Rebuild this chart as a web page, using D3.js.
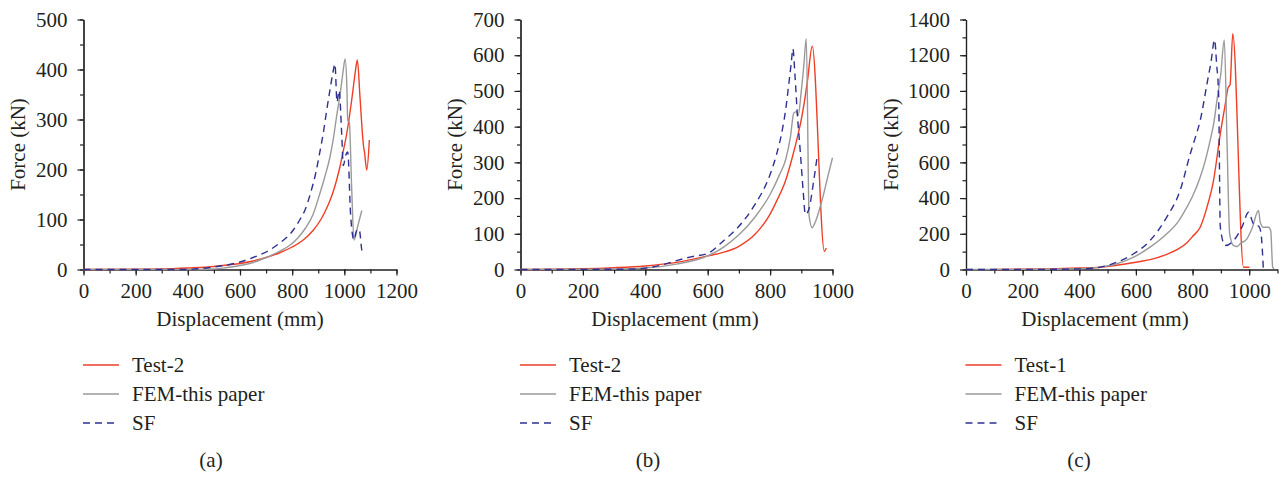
<!DOCTYPE html>
<html>
<head>
<meta charset="utf-8">
<script src="https://cdn.jsdelivr.net/npm/d3@7"></script>
<style>
  body { margin: 0; background: #fff; }
  text { font-family: "Liberation Serif", serif; fill: #231f20; }
</style>
</head>
<body>
<svg width="1283" height="477"></svg>
<script>
// ---- panel (a) ----
const testA = [[0,0],[200,0.5],[300,1],[400,3],[500,6],[550,9],[600,12],[650,17],[700,24],[750,33],[800,45],[840,58],[880,78],[910,100],[930,120],[945,138],[960,160],[972,182],[983,205],[995,235],[1009,271],[1028,338],[1041,391],[1050,419],[1060,345],[1074,245],[1077,236],[1086,199],[1096,259]];
const femA = [[0,0],[400,0],[500,1],[550,4],[600,8],[650,14],[700,24],[750,36],[790,48],[820,62],[850,82],[880,110],[905,150],[925,185],[945,225],[958,262],[970,305],[985,355],[995,395],[1003,421],[1010,360],[1013,298],[1019,295],[1028,165],[1037,59],[1052,88],[1067,118]];
const sfA = [[0,0],[400,0],[450,2],[500,5],[550,9],[600,15],[650,24],[700,35],[750,52],[800,76],[830,100],[850,120],[870,152],[890,192],[905,232],[920,275],[930,310],[942,350],[955,390],[964,411],[972,335],[980,358],[990,270],[996,208],[1005,228],[1013,235],[1024,110],[1037,59],[1045,75],[1051,81],[1058,78],[1068,38],[1086,35]];
const xTicksA = [0,200,400,600,800,1000,1200];
const yTicksA = [0,100,200,300,400,500];
const legendA = ["Test-2","FEM-this paper","SF"];

// ---- panel (b) ----
const testB = [[0,0],[200,2],[300,5],[400,10],[500,20],[600,38],[650,48],[700,65],[750,97],[800,155],[820,190],[850,250],[870,310],[890,380],[900,420],[910,470],[920,530],[935,625],[974,51],[980,60]];
const femB = [[0,0],[300,1],[400,4],[500,15],[600,38],[650,62],[700,97],[750,145],[800,210],[830,265],[850,308],[865,370],[876,438],[884,442],[890,432],[900,500],[908,570],[916,646],[925,150],[935,117],[942,127],[967,196],[988,271],[1000,313]];
const sfB = [[0,0],[350,1],[400,4],[450,12],[500,25],[550,36],[600,45],[650,80],[700,121],[750,180],[800,266],[820,320],[840,395],[850,448],[860,520],[868,580],[873,618],[880,540],[887,439],[897,327],[906,220],[913,154],[924,168],[940,250],[951,317]];
const xTicksB = [0,200,400,600,800,1000];
const yTicksB = [0,100,200,300,400,500,600,700];
const legendB = ["Test-2","FEM-this paper","SF"];

// ---- panel (c) ----
const testC = [[100,0],[300,3],[400,8],[474,13],[550,28],[615,45],[650,55],[709,85],[750,115],[780,150],[800,185],[827,237],[851,349],[874,498],[898,760],[915,920],[926,1020],[931,1030],[933,1040],[942,1320],[980,13],[1001,13]];
const femC = [[0,0],[300,1],[400,4],[474,13],[533,32],[592,69],[650,125],[709,200],[750,270],[780,349],[800,410],[827,517],[845,610],[862,722],[875,820],[886,946],[900,1100],[912,1286],[922,700],[931,200],[945,134],[959,129],[968,144],[992,172],[1010,230],[1033,330],[1039,265],[1050,237],[1068,237],[1076,218],[1083,13],[1088,4]];
const sfC = [[0,0],[300,1],[415,4],[474,13],[533,41],[592,88],[650,162],[709,293],[756,442],[792,648],[810,740],[827,834],[851,1040],[865,1160],[878,1286],[885,1150],[892,984],[898,237],[915,134],[945,162],[975,240],[998,321],[1015,256],[1035,240],[1042,200],[1050,4]];
const xTicksC = [0,200,400,600,800,1000];
const yTicksC = [0,200,400,600,800,1000,1200,1400];
const legendC = ["Test-1","FEM-this paper","SF"];

const colors = ["#ef3e26", "#9a9a9a", "#2e3192"];
const dashes = [null, null, "7,5"];
const axisColor = "#231f20";
const fontSize = 21;

const panels = [
  {cap:"(a)", series:[testA, femA, sfA], legend:legendA, xMax:1200, xTicks:xTicksA, yMax:500, yTicks:yTicksA, xMinor:100, yMinor:50, left:83.5, right:396.5, yTitleX:18, xTitleX:240, capX:211},
  {cap:"(b)", series:[testB, femB, sfB], legend:legendB, xMax:1000, xTicks:xTicksB, yMax:700, yTicks:yTicksB, xMinor:100, yMinor:50, left:520.5, right:832.5, yTitleX:455, xTitleX:675, capX:648},
  {cap:"(c)", series:[testC, femC, sfC], legend:legendC, xMax:1100, xTicks:xTicksC, yMax:1400, yTicks:yTicksC, xMinor:100, yMinor:100, left:966, right:1277.5, yTitleX:891, xTitleX:1105, capX:1079}
];

const svg = d3.select("svg");
const plotTop = 19.5, plotBottom = 269.5;

function styleAxis(sel) {
  sel.attr("font-family", "Liberation Serif, serif").attr("font-size", fontSize);
  sel.selectAll("path, line").attr("stroke", axisColor).attr("stroke-width", 1.2);
  sel.selectAll("text").attr("fill", axisColor);
}

panels.forEach(p => {
  const x = d3.scaleLinear().domain([0, p.xMax]).range([p.left, p.right]);
  const y = d3.scaleLinear().domain([0, p.yMax]).range([plotBottom, plotTop]);
  const g = svg.append("g");

  // minor ticks first, then major ticks with labels
  g.append("g")
    .attr("transform", `translate(0,${plotBottom})`)
    .call(d3.axisBottom(x).tickValues(d3.range(0, p.xMax + 1, p.xMinor)).tickSize(4).tickSizeOuter(0).tickFormat(""))
    .call(styleAxis);
  g.append("g")
    .attr("transform", `translate(0,${plotBottom})`)
    .call(d3.axisBottom(x).tickValues(p.xTicks).tickSize(6).tickSizeOuter(0).tickPadding(8).tickFormat(d3.format("d")))
    .call(styleAxis);

  g.append("g")
    .attr("transform", `translate(${p.left},0)`)
    .call(d3.axisLeft(y).tickValues(d3.range(0, p.yMax + 1, p.yMinor)).tickSize(3.5).tickSizeOuter(0).tickFormat(""))
    .call(styleAxis);
  g.append("g")
    .attr("transform", `translate(${p.left},0)`)
    .call(d3.axisLeft(y).tickValues(p.yTicks).tickSize(6).tickSizeOuter(0).tickPadding(10).tickFormat(d3.format("d")))
    .call(styleAxis);

  // curves
  const line = d3.line().x(d => x(d[0])).y(d => y(d[1])).curve(d3.curveMonotoneX);
  p.series.forEach((s, i) => {
    g.append("path")
      .datum(s)
      .attr("d", line)
      .attr("fill", "none")
      .attr("stroke", colors[i])
      .attr("stroke-width", 1.4)
      .attr("stroke-linejoin", "round")
      .attr("stroke-dasharray", dashes[i]);
  });

  // axis titles
  g.append("text")
    .attr("transform", `translate(${p.yTitleX},${(plotTop + plotBottom) / 2}) rotate(-90)`)
    .attr("text-anchor", "middle")
    .attr("dy", "0.35em")
    .attr("font-size", fontSize)
    .text("Force (kN)");
  g.append("text")
    .attr("x", p.xTitleX).attr("y", 326)
    .attr("text-anchor", "middle")
    .attr("font-size", fontSize)
    .text("Displacement (mm)");

  // legend
  const lx = p.left - 0.5;
  p.legend.forEach((name, i) => {
    const ly = 365 + i * 29;
    g.append("line")
      .attr("x1", lx).attr("x2", lx + 36)
      .attr("y1", ly).attr("y2", ly)
      .attr("stroke", colors[i])
      .attr("stroke-width", 1.4)
      .attr("stroke-dasharray", dashes[i]);
    g.append("text")
      .attr("x", lx + 49).attr("y", ly + 6.5)
      .attr("font-size", fontSize)
      .text(name);
  });

  g.append("text")
    .attr("x", p.capX).attr("y", 467)
    .attr("text-anchor", "middle")
    .attr("font-size", fontSize)
    .text(p.cap);
});
</script>
</body>
</html>
